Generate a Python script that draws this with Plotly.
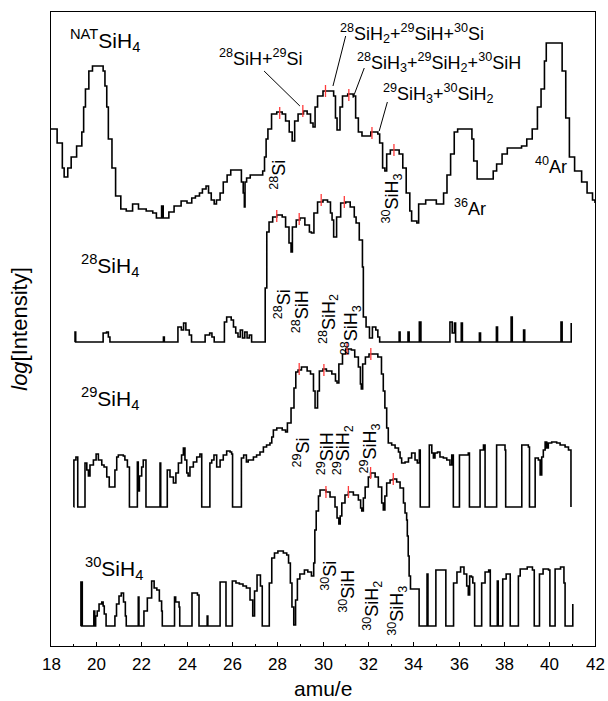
import plotly.graph_objects as go

# ---- spectra (x = amu/e, y = offset log intensity, arbitrary units) ----
NAT = [(18.00,517),(18.27,503),(18.50,478),(18.58,469),(18.74,478),(18.89,489),(19.13,500),(19.36,514),(19.44,539),(19.52,557),(19.67,575),(19.83,580),(20.22,580),(20.30,575),(20.38,560),(20.46,539),(20.53,507),(20.69,478),(20.85,450),(21.08,437),(21.32,435),(21.60,442),(21.86,437),(22.20,435),(22.49,433),(22.65,428),(22.80,428),(22.88,440),(22.95,428),(23.11,428),(23.20,434),(23.43,440),(23.74,445),(24.00,443),(24.21,448),(24.37,450),(24.55,453),(24.68,457),(24.84,460),(24.95,453),(25.07,446),(25.20,442),(25.30,446),(25.46,453),(25.60,464),(25.77,471),(25.93,476),(26.32,476),(26.40,464),(26.48,453),(26.53,439),(26.56,464),(26.63,468),(26.79,471),(27.03,471),(27.34,475),(27.42,489),(27.49,507),(27.57,517),(27.73,532),(27.96,534),(28.20,532),(28.35,525),(28.51,514),(28.64,505),(28.75,525),(28.90,532),(29.14,535),(29.30,532),(29.45,523),(29.56,519),(29.65,539),(29.76,550),(30.00,555),(30.31,555),(30.47,550),(30.55,528),(30.62,516),(30.75,539),(30.86,550),(31.09,552),(31.33,550),(31.44,528),(31.56,514),(31.72,510),(32.11,514),(32.42,512),(32.50,503),(32.63,478),(32.73,475),(32.81,492),(32.97,496),(33.36,492),(33.52,478),(33.67,453),(33.83,435),(33.91,425),(34.14,423),(34.22,442),(34.53,446),(35.00,442),(35.32,453),(35.47,471),(35.63,492),(35.79,514),(35.94,517),(36.41,517),(36.57,507),(36.65,485),(36.80,467),(37.04,467),(37.51,475),(37.66,482),(37.90,492),(38.13,498),(38.76,500),(38.99,507),(39.23,517),(39.46,539),(39.62,557),(39.77,585),(39.85,603),(40.48,603),(40.55,575),(40.71,528),(40.87,489),(41.10,475),(41.41,464),(41.65,453),(41.89,446),(42.00,443)]

SI28 = [(19.05,304),(19.06,314),(19.09,304),(20.25,304),(20.30,313),(20.45,314),(20.53,309),(20.60,304),(22.90,304),(22.96,309),(23.00,304),(23.55,304),(23.60,319),(23.75,316),(23.85,323),(23.95,316),(24.10,311),(24.20,304),(24.75,304),(24.80,311),(25.00,313),(25.10,309),(25.20,304),(25.60,304),(25.65,324),(25.75,329),(25.95,326),(26.05,319),(26.15,313),(26.25,309),(26.35,316),(26.45,308),(26.55,314),(26.65,308),(26.75,311),(26.85,304),(27.40,304),(27.45,358),(27.52,414),(27.62,424),(27.78,429),(27.96,431),(28.20,429),(28.35,419),(28.50,403),(28.59,394),(28.65,419),(28.82,426),(28.98,428),(29.20,421),(29.40,414),(29.49,413),(29.60,433),(29.76,444),(30.00,446),(30.20,444),(30.33,433),(30.40,426),(30.47,409),(30.60,429),(30.78,443),(31.00,444),(31.20,439),(31.38,429),(31.46,423),(31.60,406),(31.74,379),(31.78,329),(31.90,319),(32.05,308),(32.18,319),(32.33,316),(32.42,309),(32.50,304),(33.30,304),(33.36,314),(33.40,304),(33.70,304),(33.75,314),(33.80,304),(34.20,304),(34.25,324),(34.32,304),(35.55,304),(35.60,324),(35.70,313),(35.80,323),(35.85,304),(36.05,304),(36.10,323),(36.15,304),(36.85,304),(36.90,313),(36.95,304),(37.60,304),(37.65,319),(37.70,304),(38.25,304),(38.30,329),(38.35,304),(38.80,304),(38.85,316),(38.90,304),(40.45,304),(40.50,324),(40.55,304),(40.90,304),(40.95,323)]

SI29 = [(19.00,139),(19.01,186),(19.10,189),(19.18,139),(19.50,183),(19.58,176),(19.65,170),(19.72,181),(19.87,186),(19.99,192),(20.09,186),(20.24,181),(20.34,179),(20.46,169),(20.57,159),(20.75,159),(20.82,176),(20.90,189),(20.97,191),(21.19,190),(21.26,186),(21.37,179),(21.46,139),(21.81,184),(21.85,155),(21.90,170),(22.00,179),(22.07,186),(22.15,186),(22.19,139),(22.81,183),(22.84,139),(23.13,176),(23.25,169),(23.40,163),(23.51,173),(23.62,183),(23.76,191),(23.84,198),(23.91,186),(23.99,173),(24.05,170),(24.13,179),(24.28,184),(24.43,189),(24.57,192),(24.65,139),(25.01,183),(25.09,186),(25.19,191),(25.31,179),(25.46,186),(25.60,191),(25.75,195),(25.90,194),(25.97,192),(26.01,139),(26.40,188),(26.50,191),(26.62,184),(26.70,186),(26.93,189),(27.07,191),(27.22,194),(27.37,199),(27.51,201),(27.66,203),(27.74,209),(27.81,216),(27.96,218),(28.20,216),(28.35,214),(28.43,223),(28.59,238),(28.72,258),(28.80,274),(28.90,276),(29.05,279),(29.30,275),(29.45,272),(29.58,255),(29.65,238),(29.76,255),(29.84,275),(30.00,277),(30.15,275),(30.39,272),(30.55,265),(30.62,263),(30.70,282),(30.86,292),(31.00,297),(31.25,296),(31.40,289),(31.56,279),(31.65,262),(31.69,257),(31.75,282),(31.87,289),(32.03,292),(32.27,292),(32.42,289),(32.58,272),(32.66,255),(32.73,238),(32.81,218),(32.88,203),(33.03,201),(33.18,198),(33.33,194),(33.40,188),(33.47,183),(33.62,184),(33.77,188),(33.91,193),(34.06,186),(34.16,183),(34.25,196),(34.29,139),(34.69,201),(34.80,193),(34.87,188),(34.94,193),(35.05,194),(35.16,189),(35.31,188),(35.46,186),(35.60,181),(35.68,191),(35.75,139),(36.02,191),(36.41,193),(36.46,139),(36.93,196),(37.08,201),(37.15,139),(37.66,201),(37.96,201),(38.03,196),(38.06,139),(38.77,201),(39.06,199),(39.11,139),(39.36,188),(39.50,186),(39.58,171),(39.65,189),(39.72,196),(39.80,204),(39.87,198),(39.94,203),(40.09,204),(40.31,203),(40.46,201),(40.68,199),(40.83,196),(40.93,196),(40.94,139)]

SI30 = [(19.31,20),(19.32,64),(19.38,20),(19.89,35),(19.93,20),(19.97,30),(20.04,35),(20.12,42),(20.24,44),(20.30,40),(20.35,32),(20.43,20),(20.82,30),(20.89,42),(21.00,50),(21.10,53),(21.20,44),(21.28,30),(21.32,20),(21.85,49),(21.88,20),(22.10,35),(22.25,48),(22.44,65),(22.55,58),(22.67,56),(22.78,45),(22.88,35),(22.91,20),(23.45,49),(23.50,44),(23.65,39),(23.68,20),(24.22,53),(24.46,51),(24.53,20),(24.89,30),(24.92,20),(25.46,64),(25.69,64),(25.72,20),(26.00,65),(26.16,63),(26.31,62),(26.47,60),(26.62,58),(26.78,46),(26.90,30),(26.98,55),(27.09,71),(27.24,60),(27.32,20),(27.63,63),(27.74,88),(27.86,93),(28.01,95),(28.25,93),(28.40,91),(28.48,83),(28.56,63),(28.63,39),(28.71,21),(28.79,46),(28.87,67),(28.98,72),(29.18,76),(29.33,74),(29.49,70),(29.59,83),(29.64,116),(29.70,135),(29.80,150),(29.87,156),(30.13,154),(30.31,149),(30.53,139),(30.62,128),(30.70,122),(30.76,130),(30.83,143),(30.97,151),(31.12,154),(31.34,151),(31.56,146),(31.66,138),(31.71,135),(31.78,148),(31.86,159),(32.00,169),(32.10,173),(32.30,169),(32.44,159),(32.59,143),(32.66,136),(32.73,150),(32.81,163),(32.96,166),(33.10,167),(33.25,164),(33.40,158),(33.55,143),(33.62,133),(33.69,126),(33.72,110),(33.76,90),(33.80,70),(33.86,57),(34.22,57),(34.24,20),(34.59,72),(34.63,20),(34.98,76),(35.37,76),(35.42,20),(35.76,63),(35.91,74),(36.07,79),(36.22,72),(36.34,60),(36.41,51),(36.47,70),(36.55,69),(36.61,63),(36.69,20),(37.00,63),(37.15,74),(37.31,76),(37.38,20),(37.69,65),(37.73,20),(37.93,67),(38.08,72),(38.23,72),(38.26,20),(38.62,70),(38.70,77),(39.01,79),(39.24,76),(39.32,20),(39.55,72),(39.71,77),(39.95,76),(40.01,20),(40.24,77),(40.48,79),(40.63,63),(40.68,20),(41.02,42)]

# ---- marked peak positions (red ticks) ----
PEAK_NAT_X = [28.09, 29.11, 30.11, 31.14, 32.16, 33.13]
PEAK_NAT_Y = [533, 535, 555, 551, 513, 496]
PEAK_28_X = [27.96, 28.95, 29.92, 30.94]
PEAK_28_Y = [430, 427, 446, 444]
PEAK_29_X = [28.95, 30.04, 31.06, 32.11]
PEAK_29_Y = [277, 276, 297, 292]
PEAK_30_X = [30.13, 31.12, 32.10, 33.10]
PEAK_30_Y = [154, 154, 173, 167]

# ---- axis tick labels ----
X_TICKS = [18, 20, 22, 24, 26, 28, 30, 32, 34, 36, 38, 40, 42]
X_TICK_TEXT = ["18", "20", "22", "24", "26", "28", "30", "32", "34", "36", "38", "40", "42"]

# ---- text labels ----
SPECIES_LABELS = ["<sup>NAT</sup>SiH<sub>4</sub>", "<sup>28</sup>SiH<sub>4</sub>",
                  "<sup>29</sup>SiH<sub>4</sub>", "<sup>30</sup>SiH<sub>4</sub>"]
SPECIES_X = [18.75, 19.24, 19.24, 19.41]
SPECIES_Y = [606, 381, 248, 78]

FLAT_LABELS = ["<sup>28</sup>SiH+<sup>29</sup>Si",
               "<sup>28</sup>SiH<sub>2</sub>+<sup>29</sup>SiH+<sup>30</sup>Si",
               "<sup>28</sup>SiH<sub>3</sub>+<sup>29</sup>SiH<sub>2</sub>+<sup>30</sup>SiH",
               "<sup>29</sup>SiH<sub>3</sub>+<sup>30</sup>SiH<sub>2</sub>",
               "<sup>40</sup>Ar", "<sup>36</sup>Ar"]
FLAT_X = [27.28, 33.92, 35.12, 35.10, 40.05, 36.50]
FLAT_Y = [589, 613, 584, 553, 481, 439]

ROT_LABELS = ["<sup>28</sup>Si", "<sup>30</sup>SiH<sub>3</sub>",
              "<sup>28</sup>Si", "<sup>28</sup>SiH", "<sup>28</sup>SiH<sub>2</sub>", "<sup>28</sup>SiH<sub>3</sub>",
              "<sup>29</sup>Si", "<sup>29</sup>SiH", "<sup>29</sup>SiH<sub>2</sub>", "<sup>29</sup>SiH<sub>3</sub>",
              "<sup>30</sup>Si", "<sup>30</sup>SiH", "<sup>30</sup>SiH<sub>2</sub>", "<sup>30</sup>SiH<sub>3</sub>"]
ROT_X = [28.00, 33.02, 28.20, 29.00, 30.22, 31.20, 29.05, 30.10, 30.85, 32.05, 30.25, 31.05, 32.15, 33.25]
ROT_Y = [471, 448, 342, 334, 327, 316, 194, 192, 196, 198, 70, 55, 40, 35]

LEADER_X0 = [27.40, 31.00, 31.82, 32.84]
LEADER_Y0 = [575, 610, 578, 544]
LEADER_X1 = [28.98, 30.44, 31.32, 32.48]
LEADER_Y1 = [540, 560, 548, 515]

FONT = "Liberation Sans, Arial, Helvetica, sans-serif"

fig = go.Figure()
for series in (NAT, SI28, SI29, SI30):
    fig.add_trace(go.Scatter(
        x=[p[0] for p in series], y=[p[1] for p in series], mode="lines",
        line=dict(color="black", width=1.6, shape="hv"),
        showlegend=False, hoverinfo="skip"))

# red peak ticks
rx, ry = [], []
for xs, ys in ((PEAK_NAT_X, PEAK_NAT_Y), (PEAK_28_X, PEAK_28_Y),
               (PEAK_29_X, PEAK_29_Y), (PEAK_30_X, PEAK_30_Y)):
    for xv, yv in zip(xs, ys):
        rx += [xv, xv, None]
        ry += [yv - 6, yv + 6, None]
fig.add_trace(go.Scatter(x=rx, y=ry, mode="lines",
                         line=dict(color="#ff3b3b", width=1.3),
                         showlegend=False, hoverinfo="skip"))

# leader lines
lx, ly = [], []
for x0, y0, x1, y1 in zip(LEADER_X0, LEADER_Y0, LEADER_X1, LEADER_Y1):
    lx += [x0, x1, None]
    ly += [y0, y1, None]
fig.add_trace(go.Scatter(x=lx, y=ly, mode="lines",
                         line=dict(color="black", width=1),
                         showlegend=False, hoverinfo="skip"))

ann = []
for t, xv, yv in zip(SPECIES_LABELS, SPECIES_X, SPECIES_Y):
    ann.append(dict(text=t, x=xv, y=yv, xref="x", yref="y", showarrow=False,
                    xanchor="left", yanchor="middle",
                    font=dict(family=FONT, size=21, color="black")))
for t, xv, yv in zip(FLAT_LABELS, FLAT_X, FLAT_Y):
    ann.append(dict(text=t, x=xv, y=yv, xref="x", yref="y", showarrow=False,
                    xanchor="center", yanchor="middle",
                    font=dict(family=FONT, size=18, color="black")))
for t, xv, yv in zip(ROT_LABELS, ROT_X, ROT_Y):
    ann.append(dict(text=t, x=xv, y=yv, xref="x", yref="y", showarrow=False,
                    textangle=-90, xanchor="center", yanchor="middle",
                    font=dict(family=FONT, size=18, color="black")))
# x tick labels and axis title, placed below the frame
for xv, t in zip(X_TICKS, X_TICK_TEXT):
    ann.append(dict(text=t, x=xv, y=0, xref="x", yref="paper", showarrow=False,
                    xanchor="center", yanchor="middle", yshift=-18,
                    font=dict(family=FONT, size=17, color="black")))
ann.append(dict(text="amu/e", x=0.5, y=0, xref="paper", yref="paper", showarrow=False,
                xanchor="center", yanchor="middle", yshift=-42,
                font=dict(family=FONT, size=21, color="black")))

fig.update_layout(
    width=608, height=701,
    margin=dict(l=51, r=13, t=12, b=55),
    paper_bgcolor="white", plot_bgcolor="white",
    showlegend=False,
    annotations=ann,
    font=dict(family=FONT, color="black"),
    xaxis=dict(range=[18, 42], dtick=2, tick0=18, ticks="inside", ticklen=4,
               tickwidth=1, tickcolor="black", showline=True, linecolor="black",
               linewidth=1, mirror=True, showgrid=False, zeroline=False,
               showticklabels=False,
               minor=dict(ticks="inside", dtick=1, ticklen=2.5, tickcolor="black")),
    yaxis=dict(range=[0, 634], showticklabels=False, ticks="", showline=True,
               linecolor="black", linewidth=1, mirror=True, showgrid=False,
               zeroline=False,
               title=dict(text="<i>log</i>[Intensity]",
                          font=dict(family=FONT, size=22, color="black"),
                          standoff=16)),
)

fig.write_html("out.html")
